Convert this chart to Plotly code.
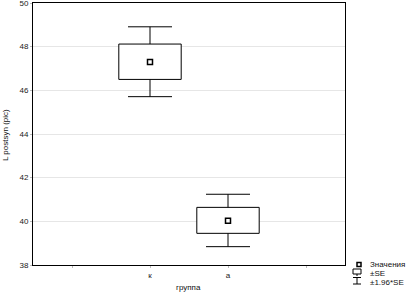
import plotly.graph_objects as go

categories = ["к", "а"]
cat_pos = [2, 3]
means = [47.30, 40.03]
se_low = [46.50, 39.45]
se_high = [48.12, 40.64]
ci_low = [45.71, 38.84]
ci_high = [48.91, 41.24]
y_ticks = [38, 40, 42, 44, 46, 48, 50]

FONT = "Liberation Sans, Arial, sans-serif"
HALF = 0.4  # half box width in axis units (style)
fig = go.Figure()

# whiskers (±1.96*SE) as asymmetric error bars
fig.add_trace(go.Scatter(
    x=cat_pos, y=means, mode="markers", marker=dict(size=1, color="rgba(0,0,0,0)"),
    error_y=dict(type="data", symmetric=False,
                 array=[h - m for h, m in zip(ci_high, means)],
                 arrayminus=[m - l for m, l in zip(means, ci_low)],
                 color="black", thickness=1, width=22),
    showlegend=False, hoverinfo="skip",
))

# boxes (±SE)
for i in range(len(categories)):
    c = cat_pos[i]
    fig.add_trace(go.Scatter(
        x=[c - HALF, c + HALF, c + HALF, c - HALF, c - HALF],
        y=[se_low[i], se_low[i], se_high[i], se_high[i], se_low[i]],
        mode="lines", fill="toself", fillcolor="white",
        line=dict(color="black", width=1), showlegend=False, hoverinfo="skip",
    ))

fig.add_trace(go.Scatter(
    x=cat_pos, y=means, mode="markers",
    marker=dict(symbol="square", size=5, color="white", line=dict(color="black", width=1.5)),
    showlegend=False,
))

L, R, T, B = 33, 345, 3, 265
W, H = R - L, B - T
def px(x): return (x - L) / W
def py(y): return (B - y) / H

def pline(x0, y0, x1, y1):
    return dict(type="line", xref="paper", yref="paper", x0=px(x0), x1=px(x1), y0=py(y0), y1=py(y1),
                line=dict(color="black", width=1))

shapes = [
    dict(type="rect", xref="paper", yref="paper", x0=px(357), x1=px(361), y0=py(266.5), y1=py(262.5),
         line=dict(color="black", width=1.5), fillcolor="white"),
    dict(type="rect", xref="paper", yref="paper", x0=px(353), x1=px(361), y0=py(274), y1=py(269),
         line=dict(color="black", width=1), fillcolor="white"),
    pline(357, 274, 357, 276),
    pline(357, 277.5, 357, 284),
    pline(353, 277.5, 361, 277.5),
    pline(353, 284, 361, 284),
]

annotations = []
for txt, yy in [("Значения", 264), ("±SE", 273), ("±1.96*SE", 282.5)]:
    annotations.append(dict(text=txt, xref="paper", yref="paper", x=px(367.5), y=py(yy),
                            xanchor="left", yanchor="middle", showarrow=False,
                            font=dict(family=FONT, size=8, color="#111111")))
annotations.append(dict(text="группа", xref="paper", yref="paper", x=px(188), y=py(287),
                        xanchor="center", yanchor="middle", showarrow=False,
                        font=dict(family=FONT, size=8, color="#111111")))
annotations.append(dict(text="L postsyn (pic)", xref="paper", yref="paper", x=px(5), y=py(135),
                        xanchor="center", yanchor="middle", showarrow=False, textangle=-90,
                        font=dict(family=FONT, size=8, color="#111111")))

fig.update_layout(
    width=410, height=294,
    margin=dict(l=L, r=410 - R, t=T, b=294 - B, autoexpand=False),
    paper_bgcolor="white", plot_bgcolor="white",
    font=dict(family=FONT, size=8, color="#222222"),
    shapes=shapes, annotations=annotations,
    xaxis=dict(range=[0.5, 4.5], tickvals=[1, 2, 3, 4], ticktext=["", categories[0], categories[1], ""],
               showgrid=False, zeroline=False, showline=True, linecolor="black", linewidth=1, mirror=True,
               ticks="outside", ticklen=2, tickcolor="#bbbbbb", automargin=False),
    yaxis=dict(range=[38, 50], tickvals=y_ticks, showgrid=True, gridcolor="#e6e6e6", gridwidth=1,
               zeroline=False, showline=True, linecolor="black", linewidth=1, mirror=True,
               ticks="outside", ticklen=2, tickcolor="#bbbbbb", automargin=False,
               ticklabeloverflow="allow"),
)

fig.write_html("out.html", config={"displayModeBar": False},
               post_script="document.body.style.margin='0';document.body.style.padding='0';document.body.style.overflow='hidden';")
